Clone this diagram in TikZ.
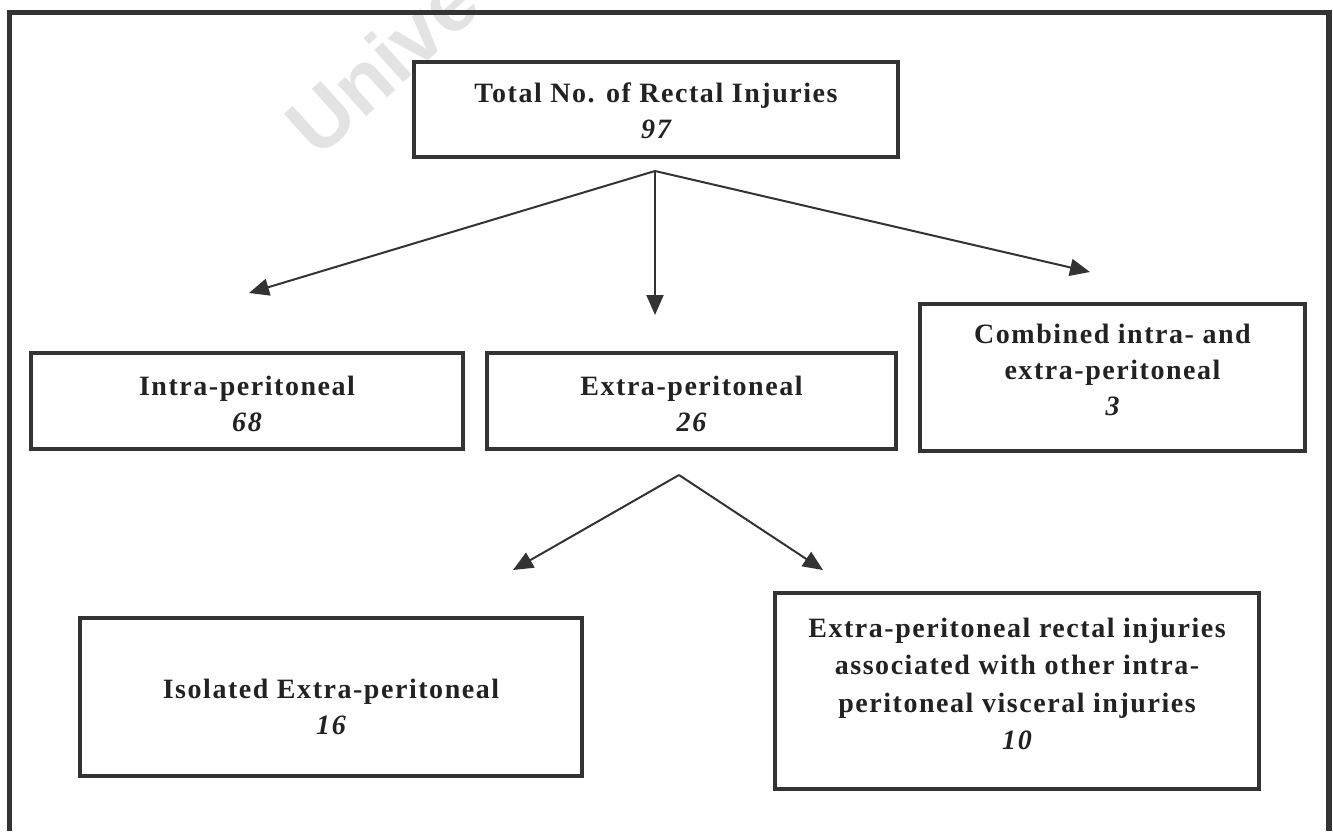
\documentclass[tikz,border=0pt]{standalone}
\usepackage{fontspec}
\setmainfont{Liberation Serif}[LetterSpace=5.5]
\newfontfamily\wmfont{Liberation Sans}
\usetikzlibrary{arrows.meta}
\definecolor{ink}{HTML}{333333}
\definecolor{txt}{HTML}{222222}
\tikzset{
  box/.style={draw=ink, line width=4pt, rectangle, inner sep=0pt},
  lbl/.style={align=center, inner sep=0pt, text=txt,
    font=\bfseries\fontsize{28}{36}\selectfont},
  conn/.style={draw=ink, line width=2pt, -{Triangle[length=20pt,width=17pt]}},
  frame/.style={draw=ink, line width=5.5pt},
}
\newcommand{\num}[1]{{\itshape #1}}
\begin{document}
\begin{tikzpicture}[x=1pt,y=-1pt]
\useasboundingbox (0,0) rectangle (1333,831);
% watermark
\node[text=black!11, font=\wmfont\bfseries\fontsize{82}{82}\selectfont, rotate=42, anchor=base west, inner sep=0pt] (wm) at (318,160) {Unive};
% frame
\draw[frame] (9.5,831) -- (9.5,12.5) -- (1329,12.5) -- (1329,831);
% boxes
\node[box, minimum width=484pt, minimum height=95pt] (top) at (656,109) {};
\node[box, minimum width=432pt, minimum height=96pt] (intra) at (247,401) {};
\node[box, minimum width=409pt, minimum height=96pt] (extra) at (691.5,401) {};
\node[box, minimum width=385pt, minimum height=147pt] (comb) at (1112.5,377.5) {};
\node[box, minimum width=502pt, minimum height=158pt] (iso) at (331,697) {};
\node[box, minimum width=484pt, minimum height=196pt] (assoc) at (1017,691) {};
% texts
\node[lbl, yshift=-2pt] (topt) at (top.center) {Total No. of Rectal Injuries\\\num{97}};
\node[lbl, yshift=-3pt] (intrat) at (intra.center) {Intra-peritoneal\\\num{68}};
\node[lbl, yshift=-3pt] (extrat) at (extra.center) {Extra-peritoneal\\\num{26}};
\node[lbl, yshift=8pt] (combt) at (comb.center) {Combined intra- and\\extra-peritoneal\\\num{3}};
\node[lbl, yshift=-10pt] (isot) at (iso.center) {Isolated Extra-peritoneal\\\num{16}};
\node[lbl, yshift=7pt, font=\bfseries\fontsize{28}{37.5}\selectfont] (assoct) at (assoc.center) {Extra-peritoneal rectal injuries\\associated with other intra-\\peritoneal visceral injuries\\\num{10}};
% connectors
\coordinate (s1) at (655,171);
\coordinate (t1) at (249,293);
\coordinate (t2) at (655,315);
\coordinate (t3) at (1090,272);
\coordinate (s2) at (679,475);
\coordinate (t4) at (513,570);
\coordinate (t5) at (823,570);
\draw[conn] (s1) -- (t1);
\draw[conn] (s1) -- (t2);
\draw[conn] (s1) -- (t3);
\draw[conn] (s2) -- (t4);
\draw[conn] (s2) -- (t5);
\end{tikzpicture}
\end{document}
